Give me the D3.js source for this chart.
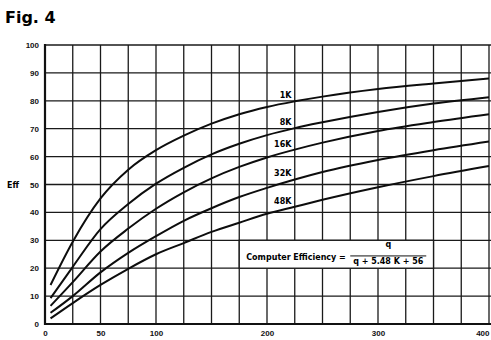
<!DOCTYPE html>
<html>
<head>
<meta charset="utf-8">
<script src="https://cdn.jsdelivr.net/npm/d3@7"></script>
<style>
  body { margin: 0; background: #fff; }
  svg { display: block; font-family: "DejaVu Sans", sans-serif; font-weight: bold; }
  .tick text { font-size: 8px; fill: #111; }
</style>
</head>
<body>
<div id="chart"></div>
<script>
// data (Eff in %, q on the x axis)
const qValues = [5, 25, 50, 75, 100, 125, 150, 175, 200, 225, 250, 300, 350, 400];
const eff1K  = [14, 29.5, 45, 55.3, 62.3, 67.5, 71.8, 75.2, 77.8, 79.8, 81.5, 84.2, 86.2, 88];
const eff8K  = [9.3, 20.5, 34, 43, 50.3, 56, 60.8, 64.6, 67.7, 70.2, 72.3, 76, 79, 81.3];
const eff16K = [6.5, 15, 26, 34.2, 41.3, 47.2, 52.2, 56.3, 59.7, 62.5, 65, 69.2, 72.4, 75.2];
const eff32K = [4, 10, 18.5, 25.5, 31.5, 37, 41.5, 45.5, 48.8, 51.8, 54.5, 58.8, 62.3, 65.4];
const eff48K = [2, 7.5, 14, 19.8, 25, 29, 33, 36.3, 39.5, 42, 44.5, 49, 53, 56.6];
const seriesNames = ["1K", "8K", "16K", "32K", "48K"];
const xTicks = [0, 50, 100, 200, 300, 400];
const yTicks = [0, 10, 20, 30, 40, 50, 60, 70, 80, 90, 100];

const series = [eff1K, eff8K, eff16K, eff32K, eff48K].map((vals, i) => ({
  name: seriesNames[i],
  values: vals.map((v, j) => ({ q: qValues[j], eff: v })),
}));

const width = 491, height = 340;
const svg = d3.select("#chart").append("svg")
  .attr("width", width).attr("height", height);

const x = d3.scaleLinear().domain([0, 400]).range([45, 489]);
const y = d3.scaleLinear().domain([0, 100]).range([324, 45]);

// title
svg.append("text")
  .attr("x", 5).attr("y", 23)
  .style("font-size", "16px")
  .text("Fig. 4");

// grid
const grid = svg.append("g").attr("stroke", "#1a1a1a").attr("stroke-width", 1.3);
grid.selectAll(".v").data(d3.range(25, 401, 25)).join("line")
  .attr("x1", d => x(d)).attr("x2", d => x(d))
  .attr("y1", y(100)).attr("y2", y(0));
grid.selectAll(".h").data(d3.range(10, 101, 10)).join("line")
  .attr("x1", x(0)).attr("x2", width)
  .attr("y1", d => y(d)).attr("y2", d => y(d));

// formula box (clears grid inside)
svg.append("rect")
  .attr("x", x(175)).attr("y", y(30))
  .attr("width", x(350) - x(175)).attr("height", y(20) - y(30))
  .attr("fill", "#fff").attr("stroke", "#1a1a1a").attr("stroke-width", 1.3);

// frame
svg.append("line")
  .attr("x1", x(0)).attr("x2", x(0)).attr("y1", y(100) - 1).attr("y2", y(0) + 1)
  .attr("stroke", "#111").attr("stroke-width", 2.2);
svg.append("line")
  .attr("x1", x(0)).attr("x2", width).attr("y1", y(0)).attr("y2", y(0))
  .attr("stroke", "#111").attr("stroke-width", 2);

// axes (labels only)
svg.append("g")
  .attr("transform", `translate(${x(0)},0)`)
  .call(d3.axisLeft(y).tickValues(yTicks).tickSize(0).tickPadding(6))
  .call(g => g.select(".domain").remove())
  .call(g => g.selectAll("text").attr("font-family", null));

svg.append("g")
  .attr("transform", `translate(0,${y(0)})`)
  .call(d3.axisBottom(x).tickValues(xTicks).tickSize(0).tickPadding(6))
  .call(g => g.select(".domain").remove())
  .call(g => g.selectAll("text").attr("font-family", null))
  // last label sits on the page edge; keep it inside
  .call(g => g.selectAll("text").filter(d => d === 400).attr("text-anchor", "end"));

svg.append("text")
  .attr("x", 7).attr("y", y(50) + 3)
  .style("font-size", "8px")
  .text("Eff");

// curves
const line = d3.line()
  .x(d => x(d.q))
  .y(d => y(d.eff))
  .curve(d3.curveMonotoneX);

svg.append("g").selectAll("path").data(series).join("path")
  .attr("d", d => line(d.values))
  .attr("fill", "none")
  .attr("stroke", "#0d0d0d")
  .attr("stroke-width", 2);

// curve labels, placed just above each curve near q = 225
svg.append("g").selectAll("text").data(series).join("text")
  .attr("x", x(222))
  .attr("y", d => y(d.values.find(v => v.q === 225).eff) - 3)
  .attr("text-anchor", "end")
  .style("font-size", "8px")
  .text(d => d.name);

// formula
const fx = x(175);
svg.append("text")
  .attr("x", fx + 7).attr("y", y(22.8))
  .style("font-size", "8px")
  .text("Computer Efficiency  =");
svg.append("line")
  .attr("x1", fx + 111).attr("x2", fx + 187)
  .attr("y1", y(24.4)).attr("y2", y(24.4))
  .attr("stroke", "#111").attr("stroke-width", 1);
svg.append("text")
  .attr("x", fx + 149).attr("y", y(27.5))
  .attr("text-anchor", "middle")
  .style("font-size", "8px")
  .text("q");
svg.append("text")
  .attr("x", fx + 149).attr("y", y(21.6))
  .attr("text-anchor", "middle")
  .style("font-size", "8px")
  .text("q + 5.48 K + 56");
</script>
</body>
</html>
